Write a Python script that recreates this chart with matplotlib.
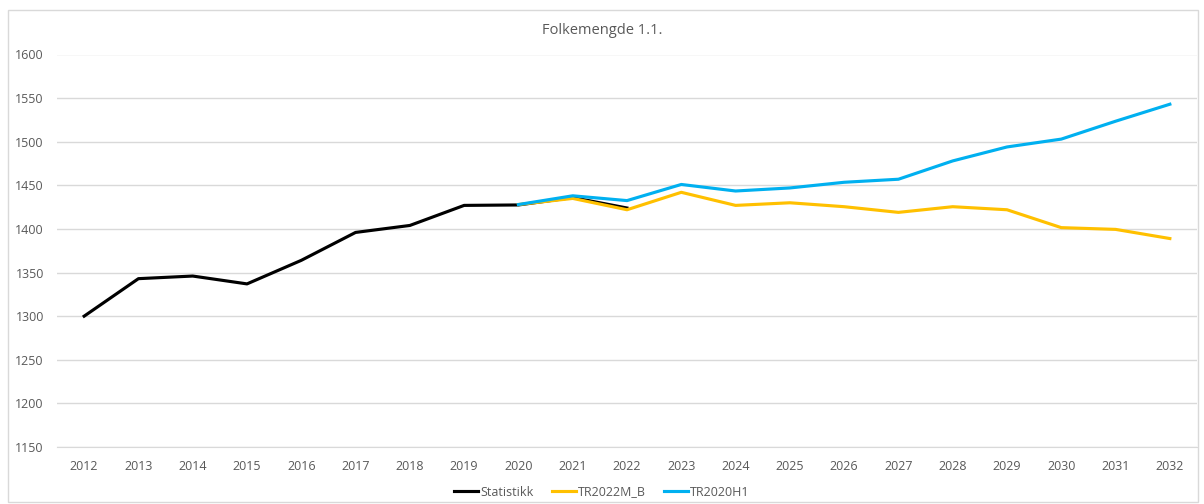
import matplotlib.pyplot as plt
from matplotlib.patches import Rectangle

plt.rcParams["font.family"] = ["Open Sans", "DejaVu Sans"]

years = list(range(2012, 2033))

stat_years = list(range(2012, 2023))
statistikk = [1300, 1343, 1346, 1337, 1364, 1396, 1404, 1427, 1427.5, 1436, 1424]

proj_years = list(range(2020, 2033))
tr2022m_b = [1428, 1435, 1422, 1442, 1427, 1430, 1425.5, 1419, 1425.5, 1422, 1401.5, 1399.5, 1389]
tr2020h1 = [1428, 1438, 1432.5, 1451, 1443.5, 1447, 1453.5, 1457, 1478, 1494, 1503, 1523.5, 1543]

y_ticks = list(range(1150, 1601, 50))

TEXT_COLOR = "#595959"
GRID_COLOR = "#d9d9d9"


def main() -> None:
    fig = plt.figure(figsize=(12.04, 5.04), dpi=100)
    ax = fig.add_axes([57 / 1204, 1 - 447 / 504, (1197 - 57) / 1204, (447 - 54.5) / 504])

    fig.patches.append(
        Rectangle((8 / 1204, 2 / 504), 1190 / 1204, 492 / 504, transform=fig.transFigure,
                  fill=False, edgecolor=GRID_COLOR, linewidth=1)
    )

    # Excel-style drawing order: later series lie on top
    ax.plot(stat_years, statistikk, color="black", linewidth=2.25, label="Statistikk")
    ax.plot(proj_years, tr2022m_b, color="#FFC000", linewidth=2.25, label="TR2022M_B")
    ax.plot(proj_years, tr2020h1, color="#00B0F0", linewidth=2.25, label="TR2020H1")

    ax.set_xlim(2011.5, 2032.5)
    ax.set_ylim(1150, 1600)
    ax.set_xticks(years)
    ax.set_xticklabels([str(y) for y in years])
    ax.set_yticks(y_ticks)
    ax.grid(axis="y", color=GRID_COLOR, linewidth=1)
    ax.set_axisbelow(True)
    for side in ["top", "right", "left"]:
        ax.spines[side].set_visible(False)
    ax.spines["bottom"].set_color(GRID_COLOR)
    ax.tick_params(length=0, labelsize=9, labelcolor=TEXT_COLOR)
    ax.tick_params(axis="y", pad=9.5)
    ax.tick_params(axis="x", pad=9.5)

    fig.text(0.5, 1 - 30 / 504, "Folkemengde 1.1.", ha="center", va="center",
             fontsize=10.5, color=TEXT_COLOR)

    fig.legend(loc="center", bbox_to_anchor=(0.5, 1 - 492 / 504), ncol=3, frameon=False,
               fontsize=9, labelcolor=TEXT_COLOR, handlelength=1.9, handletextpad=0.15,
               columnspacing=1.5)

    fig.savefig("out.png", dpi=100)


if __name__ == "__main__":
    main()
